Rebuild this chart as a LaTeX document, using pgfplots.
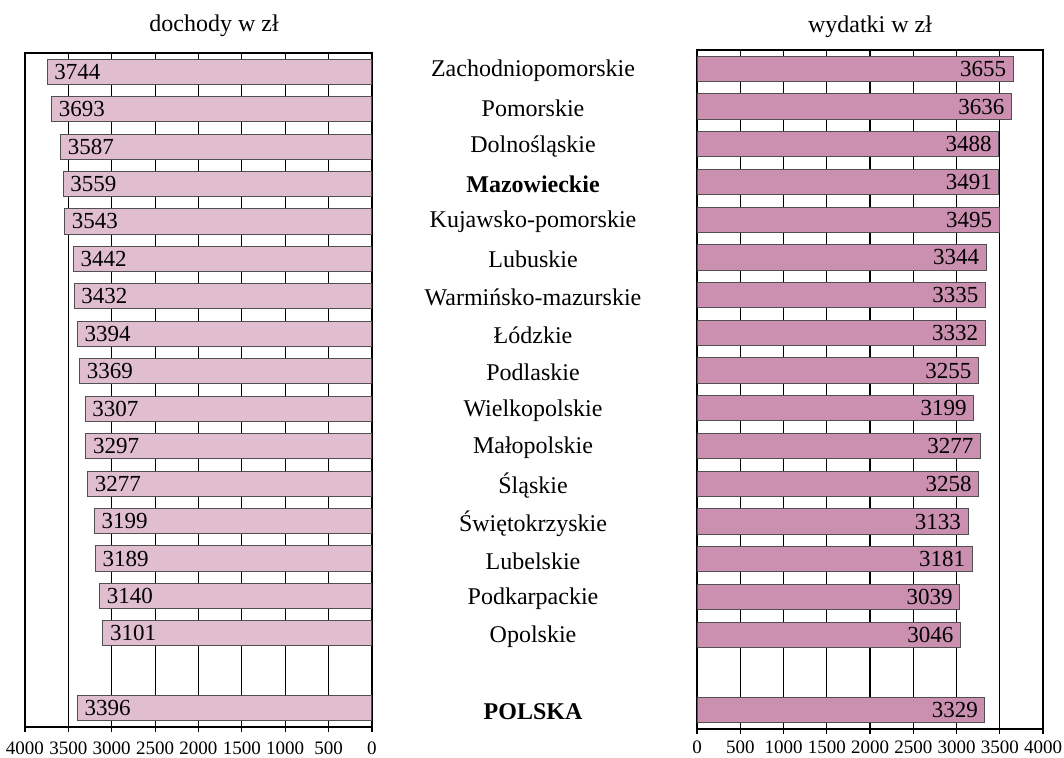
\documentclass[border=0pt]{standalone}
\usepackage{fontspec}
\setmainfont{Liberation Serif}
\usepackage{pgfplots}
\pgfplotsset{compat=1.18}
\definecolor{barA}{HTML}{E0BED0}
\definecolor{barB}{HTML}{CB8FAF}
\definecolor{edge}{HTML}{505050}
\begin{document}
\begin{tikzpicture}
\useasboundingbox (0,0) rectangle (532pt,379pt);
\pgfplotsset{
 common/.style={
  scale only axis, xbar, y dir=reverse,
  xmin=0, xmax=4000, ymin=-0.5, ymax=17.5,
  xtick={0,500,1000,1500,2000,2500,3000,3500,4000},
  xmajorgrids, grid style={black,line width=0.6pt},
  axis line style={black,line width=0.6pt},
  tick style={black,line width=0.6pt},
  tick align=outside, major tick length=2.5pt,
  xtick pos=lower,
  /pgf/number format/1000 sep={},
  /pgf/number format/assume math mode=true,
  bar width=0.67,
  nodes near coords, point meta=x,
  title style={font=\fontsize{12}{14}\selectfont, anchor=south},
 }
}
\begin{axis}[common, at={(99.25pt,184pt)}, anchor=center,
  width=173.5pt, height=337pt, x dir=reverse, ytick=\empty,
  xticklabel style={font=\fontsize{9.5}{11}\selectfont, yshift=-1.5pt},
  title={dochody w zł}, title style={at={(axis description cs:0.545,1)}, yshift=-1.5pt},
  every node near coord/.append style={font=\fontsize{11.5}{13}\selectfont, text=black, anchor=west}]
\addplot[fill=barA, draw=edge, line width=0.5pt] coordinates {
(3744,0) (3693,1) (3587,2) (3559,3) (3543,4) (3442,5) (3432,6) (3394,7)
(3369,8) (3307,9) (3297,10) (3277,11) (3199,12) (3189,13) (3140,14) (3101,15)
(3396,17)};
\end{axis}
\begin{axis}[common, at={(435pt,184.25pt)}, anchor=center,
  width=173pt, height=339.5pt,
  xticklabel style={font=\fontsize{9.5}{11}\selectfont, yshift=0pt},
  ytick={0,1,2,3,4,5,6,7,8,9,10,11,12,13,14,15,17},
  yticklabels={Zachodniopomorskie, Pomorskie, Dolnośląskie, \textbf{Mazowieckie},
    Kujawsko-pomorskie, Lubuskie, Warmińsko-mazurskie, Łódzkie, Podlaskie,
    Wielkopolskie, Małopolskie, Śląskie, Świętokrzyskie, Lubelskie, Podkarpackie,
    Opolskie, \textbf{POLSKA}},
  yticklabel style={anchor=center, xshift=-79.5pt, yshift=-1pt, font=\fontsize{12}{14}\selectfont},
  ytick style={draw=none},
  title={wydatki w zł}, title style={at={(axis description cs:0.5,1)}, yshift=-3.5pt},
  every node near coord/.append style={font=\fontsize{11.5}{13}\selectfont, text=black, anchor=east}]
\addplot[fill=barB, draw=edge, line width=0.5pt] coordinates {
(3655,0) (3636,1) (3488,2) (3491,3) (3495,4) (3344,5) (3335,6) (3332,7)
(3255,8) (3199,9) (3277,10) (3258,11) (3133,12) (3181,13) (3039,14) (3046,15)
(3329,17)};
\end{axis}
\end{tikzpicture}
\end{document}
